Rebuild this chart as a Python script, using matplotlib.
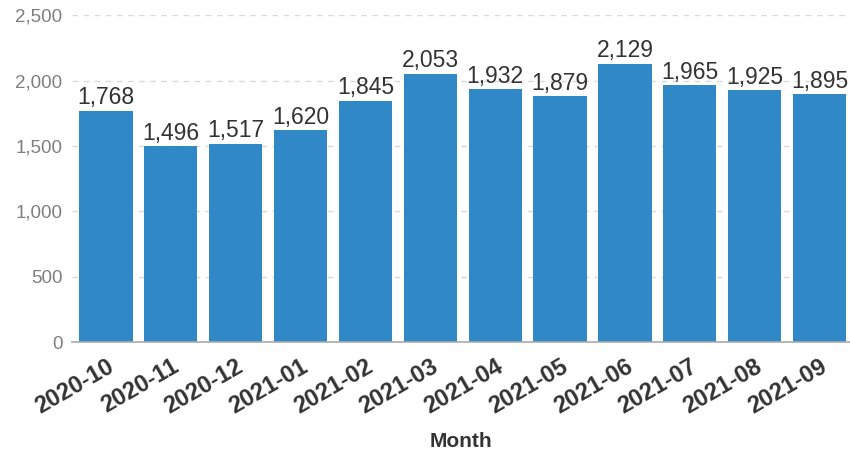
import matplotlib
matplotlib.use("Agg")
import matplotlib.pyplot as plt

months = ["2020-10", "2020-11", "2020-12", "2021-01", "2021-02", "2021-03",
          "2021-04", "2021-05", "2021-06", "2021-07", "2021-08", "2021-09"]
counts = [1768, 1496, 1517, 1620, 1845, 2053, 1932, 1879, 2129, 1965, 1925, 1895]
yticks = [0, 500, 1000, 1500, 2000, 2500]

plt.rcParams['font.family'] = ['Liberation Sans', 'DejaVu Sans']

fig = plt.figure(figsize=(8.5, 4.58), dpi=100)
ax = fig.add_axes([0.085, 0.253, 0.915, 0.714])

x = range(len(months))
ax.bar(x, counts, width=0.82, color='#3188c6', zorder=2)
for i, v in zip(x, counts):
    ax.text(i, v + 12, f"{v:,}", ha='center', va='bottom', fontsize=16.5, color='#333333', zorder=3)

ax.set_xlim(-0.52, 11.47)
ax.set_ylim(0, 2500)
ax.set_yticks(yticks)
ax.set_yticklabels([f"{t:,}" for t in yticks], fontsize=13.5, color='#7f7f7f')
ax.set_xticks(list(x))
ax.set_xticklabels(months, rotation=30, ha='right', rotation_mode='anchor',
                   fontsize=17, fontweight='bold', color='#333333')
ax.tick_params(axis='y', length=0, pad=7)
ax.tick_params(axis='x', length=0, pad=9)
ax.grid(axis='y', color='#d9d9d9', linestyle=(0, (4, 4)), linewidth=1, zorder=0)
for s in ['top', 'right', 'left']:
    ax.spines[s].set_visible(False)
ax.spines['bottom'].set_color('#aaaaaa')
ax.spines['bottom'].set_linewidth(1.2)
ax.set_xlabel("Month", fontsize=15, fontweight='bold', color='#333333', labelpad=10)

fig.savefig("out.png", dpi=100)
